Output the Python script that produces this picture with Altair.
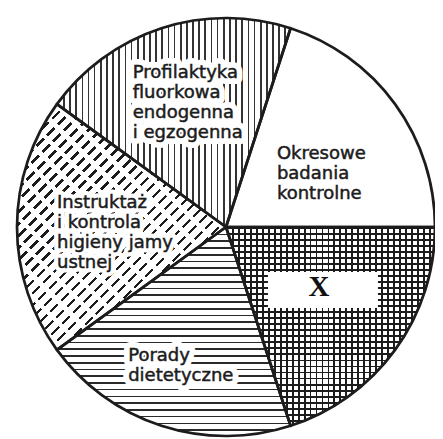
import math
import altair as alt
import pandas as pd

# ---------------- data ----------------
CATEGORIES = [
    "Okresowe badania kontrolne",
    "X",
    "Porady dietetyczne",
    "Instruktaż i kontrola higieny jamy ustnej",
    "Profilaktyka fluorkowa endogenna i egzogenna",
]
LABELS = [
    "Okresowe\nbadania\nkontrolne",
    "X",
    "Porady\ndietetyczne",
    "Instruktaż\ni kontrola\nhigieny jamy\nustnej",
    "Profilaktyka\nfluorkowa\nendogenna\ni egzogenna",
]
SHARES = [20, 20, 20, 20, 20]
ORDER = [0, 1, 2, 3, 4]

# ---------------- layout / style ----------------
START_DEG = 18.0          # first slice starts 18 deg clockwise from 12 o'clock
R = 209                   # pie radius (px)
W_PLOT, H_PLOT = 427, 431
CX, CY = 218, 219         # pie centre inside plot area (px)
INK = "#1c1c1c"
CLEAR = "rgba(255,255,255,0)"
FONT = "DejaVu Sans"

TOTAL = sum(SHARES)
df = pd.DataFrame({"cat": CATEGORIES, "label": LABELS, "share": SHARES, "idx": ORDER})

# slice angles (for sizing the hatch gradients, which live in bbox units)
angles = []
acc = 0
for s in SHARES:
    a1 = START_DEG + 360.0 * acc / TOTAL
    acc += s
    a2 = START_DEG + 360.0 * acc / TOTAL
    angles.append((a1, a2))


def wedge_bbox(a1, a2):
    pts = [(0.0, 0.0)]
    for a in (a1, a2):
        r = math.radians(a)
        pts.append((R * math.sin(r), -R * math.cos(r)))
    k = math.ceil(a1 / 90.0) * 90
    while k < a2:
        r = math.radians(k)
        pts.append((R * math.sin(r), -R * math.cos(r)))
        k += 90
    xs = [p[0] for p in pts]
    ys = [p[1] for p in pts]
    return max(xs) - min(xs), max(ys) - min(ys)


def stripes(extent, period, width, line, bg, x1, y1, x2, y2):
    n = max(1, round(extent / period))
    f = width / period
    stops = []
    for i in range(n):
        o0, o1, o2 = i / n, (i + f) / n, (i + 1) / n
        stops += [
            {"offset": round(o0, 5), "color": line},
            {"offset": round(o1, 5), "color": line},
            {"offset": round(o1, 5), "color": bg},
            {"offset": round(o2, 5), "color": bg},
        ]
    return {"gradient": "linear", "x1": x1, "y1": y1, "x2": x2, "y2": y2, "stops": stops}


def diag(W, H):
    c = (W + H) / (W * W + H * H)
    return c * W, c * H, (W + H) / math.sqrt(2)


bbox = {c: wedge_bbox(*a) for c, a in zip(CATEGORIES, angles)}

fills = []
# Okresowe - blank
fills.append((CATEGORIES[0], "white"))
# X - cross hatch (horizontal base, vertical overlay)
Wx, Hx = bbox[CATEGORIES[1]]
fills.append((CATEGORIES[1], stripes(Hx, 6.0, 1.9, INK, "white", 0, 0, 0, 1)))
fills.append((CATEGORIES[1], stripes(Wx, 6.0, 1.9, INK, CLEAR, 0, 0, 1, 0)))
# Porady - horizontal lines
Wp, Hp = bbox[CATEGORIES[2]]
fills.append((CATEGORIES[2], stripes(Hp, 6.8, 1.7, "#2a2a2a", "white", 0, 0, 0, 1)))
# Instruktaz - dashed diagonal
Wi, Hi = bbox[CATEGORIES[3]]
ax, ay, ext = diag(Wi, Hi)
fills.append((CATEGORIES[3], stripes(ext, 8.5, 2.4, INK, "white", 0, 0, ax, ay)))
fills.append((CATEGORIES[3], stripes(ext, 15.0, 4.5, "white", CLEAR, 0, 1, ax, 1 - ay)))
# Profilaktyka - vertical lines
Wf, Hf = bbox[CATEGORIES[4]]
fills.append((CATEGORIES[4], stripes(Wf, 6.2, 1.7, "#333333", "white", 0, 0, 1, 0)))

# label placement: radius along slice mid-angle + offsets, halo width
LAYOUT = {
    CATEGORIES[0]: dict(r=100, dx=-30, dy=-23, halo=0),
    CATEGORIES[2]: dict(r=145, dx=-53, dy=-18, halo=12),
    CATEGORIES[3]: dict(r=118, dx=-51, dy=-33, halo=9),
    CATEGORIES[4]: dict(r=140, dx=-50, dy=-30, halo=12),
}
XLAB = dict(r=105, dx=8, dy=-2)
BOX = dict(r=105, dx=12, dy=1.3, w=110, h=36)

# ---------------- chart ----------------
theta_scale = alt.Scale(domain=[0, TOTAL],
                        range=[math.radians(START_DEG), math.radians(START_DEG) + 2 * math.pi])
x_scale = alt.Scale(domain=[-CX, W_PLOT - CX], nice=False, zero=False)
y_scale = alt.Scale(domain=[-(H_PLOT - CY), CY], nice=False, zero=False)

XPOS = alt.XDatum(0, type="quantitative", scale=x_scale, axis=None)
YPOS = alt.YDatum(0, type="quantitative", scale=y_scale, axis=None)

base = alt.Chart(df).transform_window(
    cum="sum(share)", sort=[alt.SortField("idx")], frame=[None, 0]
).transform_calculate(
    start="datum.cum - datum.share",
    mid="datum.cum - datum.share / 2",
)

arc_enc = dict(
    theta=alt.Theta("start:Q", scale=theta_scale),
    theta2=alt.Theta2("cum:Q"),
    x=XPOS,
    y=YPOS,
)

layers = []
for cat, grad in fills:
    layers.append(
        base.transform_filter(alt.datum.cat == cat)
        .mark_arc(radius=R, fill=grad)
        .encode(**arc_enc)
    )

# outlines
layers.append(
    base.mark_arc(radius=R, fill="transparent", stroke=INK, strokeWidth=2.7, strokeJoin="round")
    .encode(**arc_enc)
)

# white box for "X"
rad = f"({START_DEG} + datum.mid / {TOTAL} * 360) * PI / 180"
layers.append(
    base.transform_filter(alt.datum.cat == CATEGORIES[1])
    .transform_calculate(rad=rad)
    .transform_calculate(
        bx=f"{BOX['r']} * sin(datum.rad) + {BOX['dx']}",
        by=f"{BOX['r']} * cos(datum.rad) - {BOX['dy']}",
    )
    .transform_calculate(
        bx1=f"datum.bx - {BOX['w'] / 2}", bx2=f"datum.bx + {BOX['w'] / 2}",
        by1=f"datum.by - {BOX['h'] / 2}", by2=f"datum.by + {BOX['h'] / 2}",
    )
    .mark_rect(fill="white")
    .encode(
        x=alt.X("bx1:Q", scale=x_scale, axis=None), x2="bx2:Q",
        y=alt.Y("by1:Q", scale=y_scale, axis=None), y2="by2:Q",
    )
)

text_enc = dict(x=XPOS, y=YPOS, theta=alt.Theta("mid:Q", scale=theta_scale), text="label:N")

for cat, lay in LAYOUT.items():
    common = dict(align="left", baseline="top", radius=lay["r"], dx=lay["dx"], dy=lay["dy"],
                  lineBreak="\n", lineHeight=20, font=FONT, fontSize=18)
    sel = base.transform_filter(alt.datum.cat == cat)
    if lay["halo"]:
        layers.append(sel.mark_text(fill="white", stroke="white", strokeWidth=lay["halo"],
                                    strokeJoin="round", **common).encode(**text_enc))
    layers.append(sel.mark_text(fill=INK, stroke=INK, strokeWidth=0.5, **common).encode(**text_enc))

layers.append(
    base.transform_filter(alt.datum.cat == CATEGORIES[1])
    .mark_text(align="center", baseline="middle", radius=XLAB["r"], dx=XLAB["dx"], dy=XLAB["dy"],
               font="Liberation Serif", fontWeight="bold", fontSize=29, fill="#111111")
    .encode(**text_enc)
)

chart = alt.layer(*layers).properties(
    width=W_PLOT, height=H_PLOT, padding=0, autosize="none", background="white"
).configure_view(strokeWidth=0)

chart.save("out.html", embed_options={"renderer": "svg", "actions": False})
